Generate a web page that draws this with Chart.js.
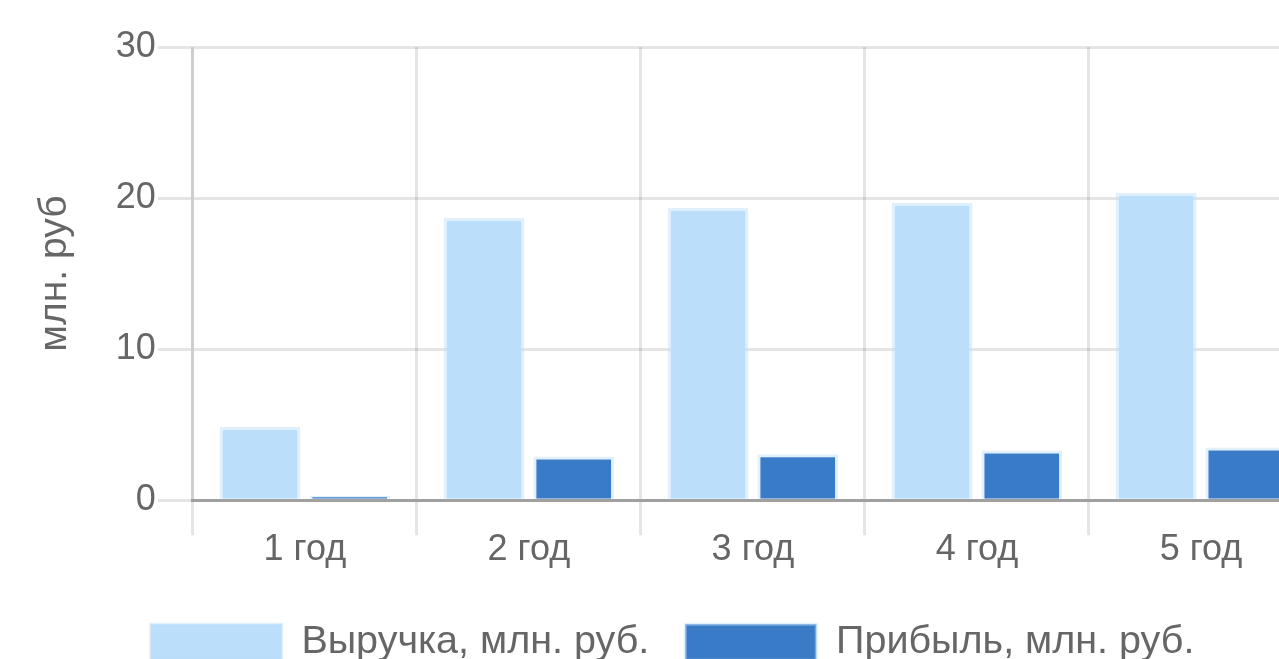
<!DOCTYPE html>
<html>
<head>
<meta charset="utf-8">
<script src="https://cdn.jsdelivr.net/npm/chart.js@4/dist/chart.umd.min.js"></script>
<style>
  html, body { margin: 0; padding: 0; background: #fff; overflow: hidden; }
  #wrap { position: absolute; left: 0; top: 0; width: 1346px; height: 720px; }
</style>
</head>
<body>
<div id="wrap"><canvas id="chart" width="1346" height="720"></canvas></div>
<script>
// data
var years = ["1 год", "2 год", "3 год", "4 год", "5 год"];
var revenue = [4.85, 18.7, 19.35, 19.7, 20.35];
var profit = [0.3, 2.9, 3.05, 3.3, 3.5];
var yTicks = [0, 10, 20, 30];

var FONT = "'Helvetica Neue', Helvetica, Arial, 'Liberation Sans', sans-serif";
var gridColor = "rgba(0,0,0,0.1)";

var ctx = document.getElementById("chart").getContext("2d");
var myChart = new Chart(ctx, {
  type: "bar",
  data: {
    labels: years,
    datasets: [{
      label: "Выручка, млн. руб.",
      data: revenue,
      backgroundColor: "#bbdefb",
      borderColor: "rgba(187,222,251,0.45)",
      borderWidth: 3
    }, {
      label: "Прибыль, млн. руб.",
      data: profit,
      backgroundColor: "#3a7bc8",
      borderColor: "rgba(187,222,251,0.45)",
      borderWidth: 3
    }]
  },
  options: {
    responsive: false,
    animation: false,
    devicePixelRatio: 1,
    layout: {
      padding: { left: 32, right: 33, top: 47, bottom: 48 }
    },
    plugins: {
      tooltip: { enabled: false },
      legend: {
        position: "bottom",
        labels: {
          boxWidth: 131,
          boxHeight: 36,
          padding: 36,
          color: "#666",
          font: { family: FONT, size: 39.5 }
        }
      }
    },
    scales: {
      x: {
        afterFit: function (axis) {
          // extra room between the year labels and the legend
          axis.height += 22;
        },
        grid: { color: gridColor, lineWidth: 3, tickLength: 35, offset: true },
        border: { color: "rgba(0,0,0,0.3)", width: 3 },
        ticks: { color: "#666", padding: -7, font: { family: FONT, size: 36 } }
      },
      y: {
        min: 0,
        max: 30,
        afterBuildTicks: function (axis) {
          axis.ticks = yTicks.map(function (v) { return { value: v }; });
        },
        grid: { color: gridColor, lineWidth: 3, tickLength: 35 },
        border: { color: gridColor, width: 3 },
        ticks: { color: "#666", padding: 2, font: { family: FONT, size: 36 } },
        title: {
          display: true,
          text: "млн. руб",
          color: "#666",
          padding: { top: 0, bottom: 35 },
          font: { family: FONT, size: 39 }
        }
      }
    }
  }
});
</script>
</body>
</html>
